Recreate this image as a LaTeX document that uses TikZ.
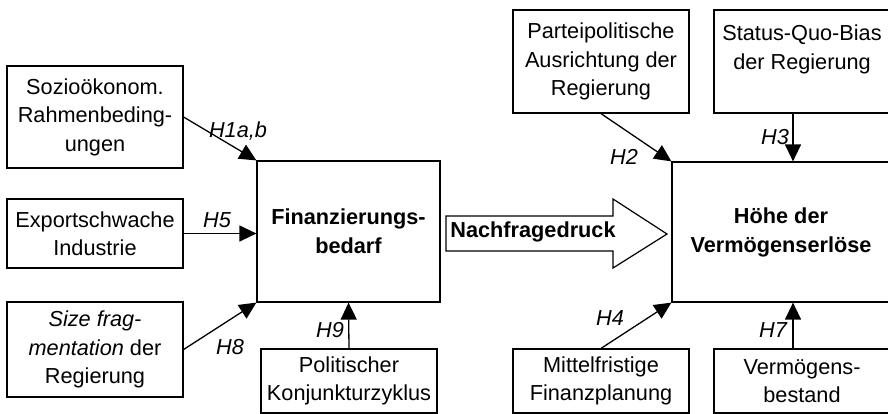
\documentclass[tikz,border=0pt]{standalone}
\usepackage{fontspec}
\setmainfont{Liberation Sans}
\usetikzlibrary{arrows.meta}

\begin{document}
\begin{tikzpicture}[x=1pt,y=-1pt,
                    font=\fontsize{21.7}{28.5}\selectfont,
                    box/.style={draw,line width=1.2pt,align=center,inner sep=0pt,minimum width=176},
                    mainbox/.style={box,font=\fontsize{21.7}{29}\selectfont\bfseries},
                    hyp/.style={line width=1.3pt,-{Triangle[length=17pt,width=16pt]}},
                    hlabel/.style={font=\fontsize{21.7}{28.5}\selectfont\itshape}]
                    \useasboundingbox (0,0) rectangle (888,413);
                    \clip (0,0) rectangle (888,413);
                    % Einflussfaktoren links
                    \node[box,minimum height=102] (sozio) at (95,117) {Sozio\"okonom.\\Rahmenbeding-\\ungen};
                    \node[box,minimum height=69] (export) at (95,233.5) {Exportschwache\\Industrie};
                    \node[box,minimum height=95] (sizefrag) at (95,349.5) {\textit{Size frag-}\\\textit{mentation} der\\Regierung};
                    \node[box,minimum height=64] (konjunktur) at (349,381) {Politischer\\Konjunkturzyklus};
                    % Einflussfaktoren rechts
                    \node[box,minimum height=103] (partei) at (601,61.5) {Parteipolitische\\Ausrichtung der\\Regierung};
                    \node[box,minimum height=103] (statusquo) at (802,61.5) {Status-Quo-Bias\\der Regierung\\\mbox{}};
                    \node[box,minimum height=64] (planung) at (601,381) {Mittelfristige\\Finanzplanung};
                    \node[box,minimum height=64] (bestand) at (802,381) {Verm\"ogens-\\bestand};
                    % zentrale Groessen
                    \node[mainbox,minimum width=183,minimum height=141] (bedarf) at (348.5,231.5) {Finanzierungs-\\bedarf};
                    \node[mainbox,minimum width=218,minimum height=140] (erloese) at (781,232) {H\"ohe der\\Verm\"ogenserl\"ose};
                    \draw[line width=1.2pt] (446,216) -- (613,216) -- (613,199) -- (667,234)
                        -- (613,268) -- (613,251) -- (446,251) -- cycle;
                    \node[font=\fontsize{21.7}{28.5}\selectfont\bfseries] (druck) at (533,232) {Nachfragedruck};
                    % Hypothesen
                    \draw[hyp] (sozio.east) -- (bedarf.north west);
                    \draw[hyp] (export.east) -- (export.east -| bedarf.west);
                    \draw[hyp] (sizefrag.east) -- (bedarf.south west);
                    \draw[hyp] (konjunktur.north) -- (bedarf.south);
                    \draw[hyp] (partei.south) -- (erloese.north west);
                    \draw[hyp] ([xshift=-9]statusquo.south) -- ([xshift=-9]statusquo.south |- erloese.north);
                    \draw[hyp] (planung.north) -- (erloese.south west);
                    \draw[hyp] ([xshift=-9]bestand.north) -- ([xshift=-9]bestand.north |- erloese.south);
                    \node[hlabel] (h1) at (238,131) {H1a,b};
                    \node[hlabel] (h5) at (217,220) {H5};
                    \node[hlabel] (h8) at (230,347) {H8};
                    \node[hlabel] (h9) at (330,330) {H9};
                    \node[hlabel] (h2) at (624,157) {H2};
                    \node[hlabel] (h3) at (775,137) {H3};
                    \node[hlabel] (h4) at (610,318) {H4};
                    \node[hlabel] (h7) at (773,330) {H7};
\end{tikzpicture}
\end{document}
